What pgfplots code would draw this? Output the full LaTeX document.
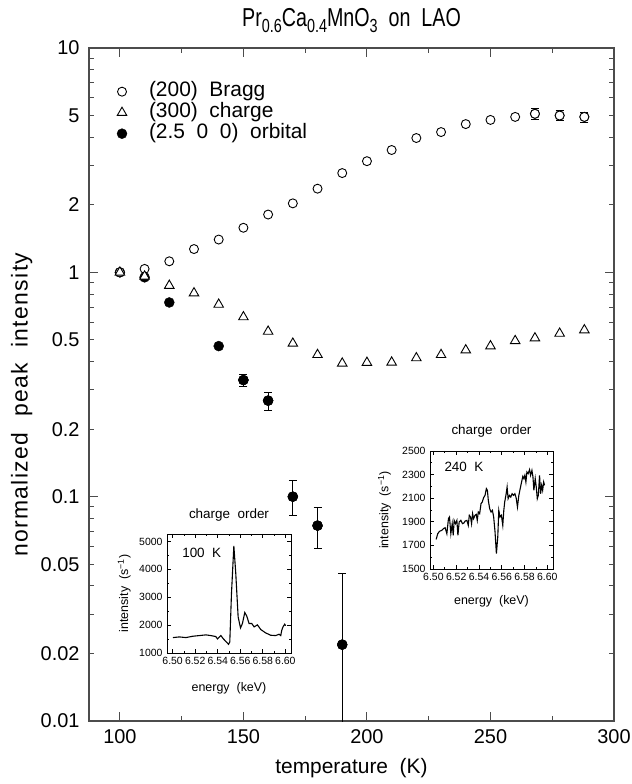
\documentclass[border=0pt]{standalone}
\usepackage{fontspec}
\setmainfont{Liberation Sans}
\usepackage{pgfplots}
\pgfplotsset{compat=1.18}
\newcommand\sub[1]{\raisebox{-0.42ex}{\fontsize{19}{19}\selectfont #1}}
\begin{document}
\begin{tikzpicture}
\useasboundingbox (0,0) rectangle (632bp,784bp);
\begin{axis}[
  at={(89bp,63bp)}, anchor=south west, scale only axis,
  width=525bp, height=673bp,
  xmin=87.5, xmax=300, ymode=log, ymin=0.01, ymax=10,
  /pgf/number format/assume math mode=true,
  axis line style={line width=1.1bp, black!70},
  every tick/.style={line width=0.9bp, black!70},
  tick align=inside,
  major tick length=9bp, minor tick length=5bp,
  xtick={100,150,200,250,300}, xticklabels={100,150,200,250,300},
  minor xtick={125,175,225,275},
  ytick={0.01,0.1,1,10}, yticklabels={0.01,0.1,1,10},
  extra y ticks={0.02,0.05,0.2,0.5,2,5},
  extra y tick labels={0.02,0.05,0.2,0.5,2,5},
  extra y tick style={major tick length=5bp},
  minor ytick={0.03,0.04,0.06,0.07,0.08,0.09,0.3,0.4,0.6,0.7,0.8,0.9,3,4,6,7,8,9},
  ticklabel style={font=\fontsize{20}{20}\selectfont},
  xticklabel style={yshift=-5bp}, yticklabel style={xshift=-6bp},
  xlabel={temperature\ \ (K)}, ylabel={normalized\ \ peak\ \ intensity},
  xlabel style={at={(axis description cs:0.5,-0.07)}, anchor=center, font=\fontsize{21}{21}\selectfont},
  ylabel style={at={(axis description cs:-0.128,0.47)}, anchor=center, font=\fontsize{23}{23}\selectfont\addfontfeature{LetterSpace=6}},
  title={Pr\sub{0.6}Ca\sub{0.4}MnO\sub{3}\ \ on\ \ LAO},
  title style={at={(axis description cs:0.5,1.032)}, anchor=center, font=\fontsize{26}{26}\selectfont\addfontfeature{FakeStretch=0.76}},
  legend style={at={(axis description cs:0.053,0.951)}, anchor=north west, draw=none, fill=none,
    font=\fontsize{21}{22}\selectfont, row sep=0pt, inner sep=0pt,
    nodes={inner sep=1bp, text height=14bp, text depth=5bp, font=\fontsize{21}{22}\selectfont},
    /tikz/every odd column/.append style={column sep=21bp}},
  legend cell align=left,
]
\addlegendimage{only marks, mark=*, mark size=4.5bp, black, line width=0.9bp, mark options={fill=white}}
\addlegendentry{(200)\ \ Bragg}
\addlegendimage{only marks, mark=triangle*, mark size=5.5bp, black, line width=0.9bp, mark options={fill=white}}
\addlegendentry{(300)\ \ charge}
\addlegendimage{only marks, mark=*, mark size=5bp, black}
\addlegendentry{(2.5\ \ 0\ \ 0)\ \ orbital}

% orbital: error bars
\addplot[forget plot, only marks, mark=*, mark size=5bp, black,
  error bars/.cd, y dir=both, y explicit, error mark=-,
  error mark options={rotate=90, mark size=4bp, line width=0.9bp, black},
  error bar style={line width=0.9bp, black}]
coordinates {
(150,0.331) += (0,0.019) -= (0,0.021)
(160,0.268) += (0,0.024) -= (0,0.026)
(170,0.100) += (0,0.018) -= (0,0.0174)
(180,0.0743) += (0,0.0152) -= (0,0.0158)
(190,0.0219) += (0,0.0238) -= (0,0.0215)
};
% orbital: all points
\addplot[forget plot, only marks, mark=*, mark size=5bp, black]
coordinates {
(100,1.0) (110,0.95) (120,0.734) (140,0.469) (150,0.331) (160,0.268)
(170,0.100) (180,0.0743) (190,0.0219)
};
% Bragg error bars
\addplot[forget plot, only marks, mark=*, mark size=4.5bp, black, line width=0.9bp,
  mark options={fill=white},
  error bars/.cd, y dir=both, y explicit, error mark=-,
  error mark options={rotate=90, mark size=4bp, line width=0.9bp, black},
  error bar style={line width=0.9bp, black}]
coordinates {
(268,5.09) +- (0,0.27)
(278,5.00) +- (0,0.25)
(288,4.93) +- (0,0.25)
};
% Bragg
\addplot[forget plot, only marks, mark=*, mark size=4.5bp, black, line width=0.9bp, mark options={fill=white}]
coordinates {
(100,1.0) (110,1.036) (120,1.12) (130,1.27) (140,1.40) (150,1.58) (160,1.81)
(170,2.03) (180,2.36) (190,2.77) (200,3.13) (210,3.51) (220,3.97) (230,4.22)
(240,4.58) (250,4.78) (260,4.93) (268,5.09) (278,5.00) (288,4.93)
};
% charge
\addplot[forget plot, only marks, mark=triangle*, mark size=5.5bp, black, line width=0.9bp, mark options={fill=white}]
coordinates {
(100,1.0) (110,0.96) (120,0.873) (130,0.808) (140,0.719) (150,0.632) (160,0.545)
(170,0.482) (180,0.429) (190,0.393) (200,0.396) (210,0.397) (220,0.415) (230,0.429)
(240,0.45) (250,0.469) (260,0.495) (268,0.509) (278,0.534) (288,0.553)
};
\end{axis}

% inset 100 K
\begin{axis}[
  at={(167bp,131bp)}, anchor=south west, scale only axis,
  width=124bp, height=119bp,
  xmin=6.495, xmax=6.605, ymin=1000, ymax=5270,
  scaled x ticks=false, scaled y ticks=false,
  axis line style={line width=0.9bp, black},
  every tick/.style={line width=0.7bp, black},
  tick align=inside, major tick length=4bp, minor tick length=2bp,
  xtick={6.50,6.52,6.54,6.56,6.58,6.60}, xticklabels={6.50,6.52,6.54,6.56,6.58,6.60},
  ytick={1000,2000,3000,4000,5000}, yticklabels={1000,2000,3000,4000,5000},
  minor x tick num=1, minor y tick num=1,
  ticklabel style={font=\fontsize{10.5}{10.5}\selectfont},
  xticklabel style={yshift=-1bp}, yticklabel style={xshift=-1bp},
  title={charge\ \ order}, title style={at={(axis description cs:0.5,1.112)}, anchor=center, font=\fontsize{13.5}{14}\selectfont},
  xlabel={energy\ \ (keV)}, ylabel={intensity\ \ (s\textsuperscript{−1})},
  label style={font=\fontsize{12.5}{12.5}\selectfont},
  xlabel style={at={(axis description cs:0.5,-0.294)}, anchor=center},
  ylabel style={at={(axis description cs:-0.345,0.5)}, anchor=center},
]
\addplot[black, line width=1.1bp] coordinates {
(6.5003,1553) (6.5059,1577) (6.5118,1553) (6.5177,1600) (6.5236,1625) (6.5295,1650)
(6.5339,1625) (6.5383,1590) (6.5398,1505) (6.5428,1625) (6.5448,1517) (6.5496,1312)
(6.5507,1396) (6.5522,3138) (6.5543,4844) (6.5560,3860) (6.5581,2297) (6.5602,1900)
(6.5619,2057) (6.5640,2453) (6.5658,2321) (6.5678,2057) (6.5702,2057) (6.5723,1937)
(6.5752,2009) (6.5782,1840) (6.5826,1720) (6.5870,1637) (6.5914,1625) (6.5944,1673)
(6.5959,1625) (6.5968,1817) (6.5979,1937) (6.5994,2033) (6.6003,1980)
};
\node[font=\fontsize{13.5}{14}\selectfont] at (axis description cs:0.28,0.843) {100\ \ K};
\end{axis}

% inset 240 K
\begin{axis}[
  at={(430bp,215bp)}, anchor=south west, scale only axis,
  width=123bp, height=118bp,
  xmin=6.497, xmax=6.605, ymin=1500, ymax=2500,
  scaled x ticks=false, scaled y ticks=false,
  axis line style={line width=0.9bp, black},
  every tick/.style={line width=0.7bp, black},
  tick align=inside, major tick length=4bp, minor tick length=2bp,
  xtick={6.50,6.52,6.54,6.56,6.58,6.60}, xticklabels={6.50,6.52,6.54,6.56,6.58,6.60},
  ytick={1500,1700,1900,2100,2300,2500}, yticklabels={1500,1700,1900,2100,2300,2500},
  minor x tick num=1, minor y tick num=1,
  ticklabel style={font=\fontsize{10.5}{10.5}\selectfont},
  xticklabel style={yshift=-1bp}, yticklabel style={xshift=-1bp},
  title={charge\ \ order}, title style={at={(axis description cs:0.5,1.12)}, anchor=center, font=\fontsize{13.5}{14}\selectfont},
  xlabel={energy\ \ (keV)}, ylabel={intensity\ \ (s\textsuperscript{−1})},
  label style={font=\fontsize{12.5}{12.5}\selectfont},
  xlabel style={at={(axis description cs:0.5,-0.277)}, anchor=center},
  ylabel style={at={(axis description cs:-0.37,0.5)}, anchor=center},
]
\addplot[black, line width=1.1bp] coordinates {
(6.5024,1751) (6.5038,1799) (6.5053,1819) (6.5074,1828) (6.5088,1842) (6.5103,1850)
(6.5118,1799) (6.5132,1927) (6.5141,1941) (6.5153,1799) (6.5165,1884) (6.5174,1785)
(6.5182,1912) (6.5194,1884) (6.5206,1912) (6.5215,1785) (6.5226,1898) (6.5241,1912)
(6.5256,1884) (6.5268,1890) (6.5279,1907) (6.5294,1912) (6.5306,1870) (6.5315,1955)
(6.5326,1941) (6.5335,1884) (6.5344,1969) (6.5353,1927) (6.5365,1955) (6.5376,1963)
(6.5385,1912) (6.5394,1983) (6.5406,1969) (6.5418,2054) (6.5429,2068) (6.5441,2105)
(6.5453,2124) (6.5465,2181) (6.5474,2167) (6.5482,2082) (6.5494,2011) (6.5506,1983)
(6.5518,1997) (6.5529,1941) (6.5541,1814) (6.5553,1630) (6.5565,1771) (6.5574,1997)
(6.5585,1941) (6.5597,1955) (6.5609,1870) (6.5618,1997) (6.5626,2068) (6.5638,2133)
(6.5647,2195) (6.5656,2096) (6.5668,2124) (6.5679,2110) (6.5691,2138) (6.5703,2124)
(6.5715,2138) (6.5726,2105) (6.5738,2025) (6.5750,2124) (6.5762,2181) (6.5774,2237)
(6.5785,2285) (6.5794,2266) (6.5803,2294) (6.5812,2237) (6.5821,2322) (6.5832,2308)
(6.5844,2342) (6.5853,2294) (6.5865,2336) (6.5874,2280) (6.5882,2167) (6.5894,2266)
(6.5903,2195) (6.5912,2096) (6.5921,2124) (6.5932,2294) (6.5941,2138) (6.5950,2209)
(6.5959,2167) (6.5968,2237) (6.5976,2209)
};
\node[font=\fontsize{13.5}{14}\selectfont] at (axis description cs:0.276,0.867) {240\ \ K};
\end{axis}
\end{tikzpicture}
\end{document}
